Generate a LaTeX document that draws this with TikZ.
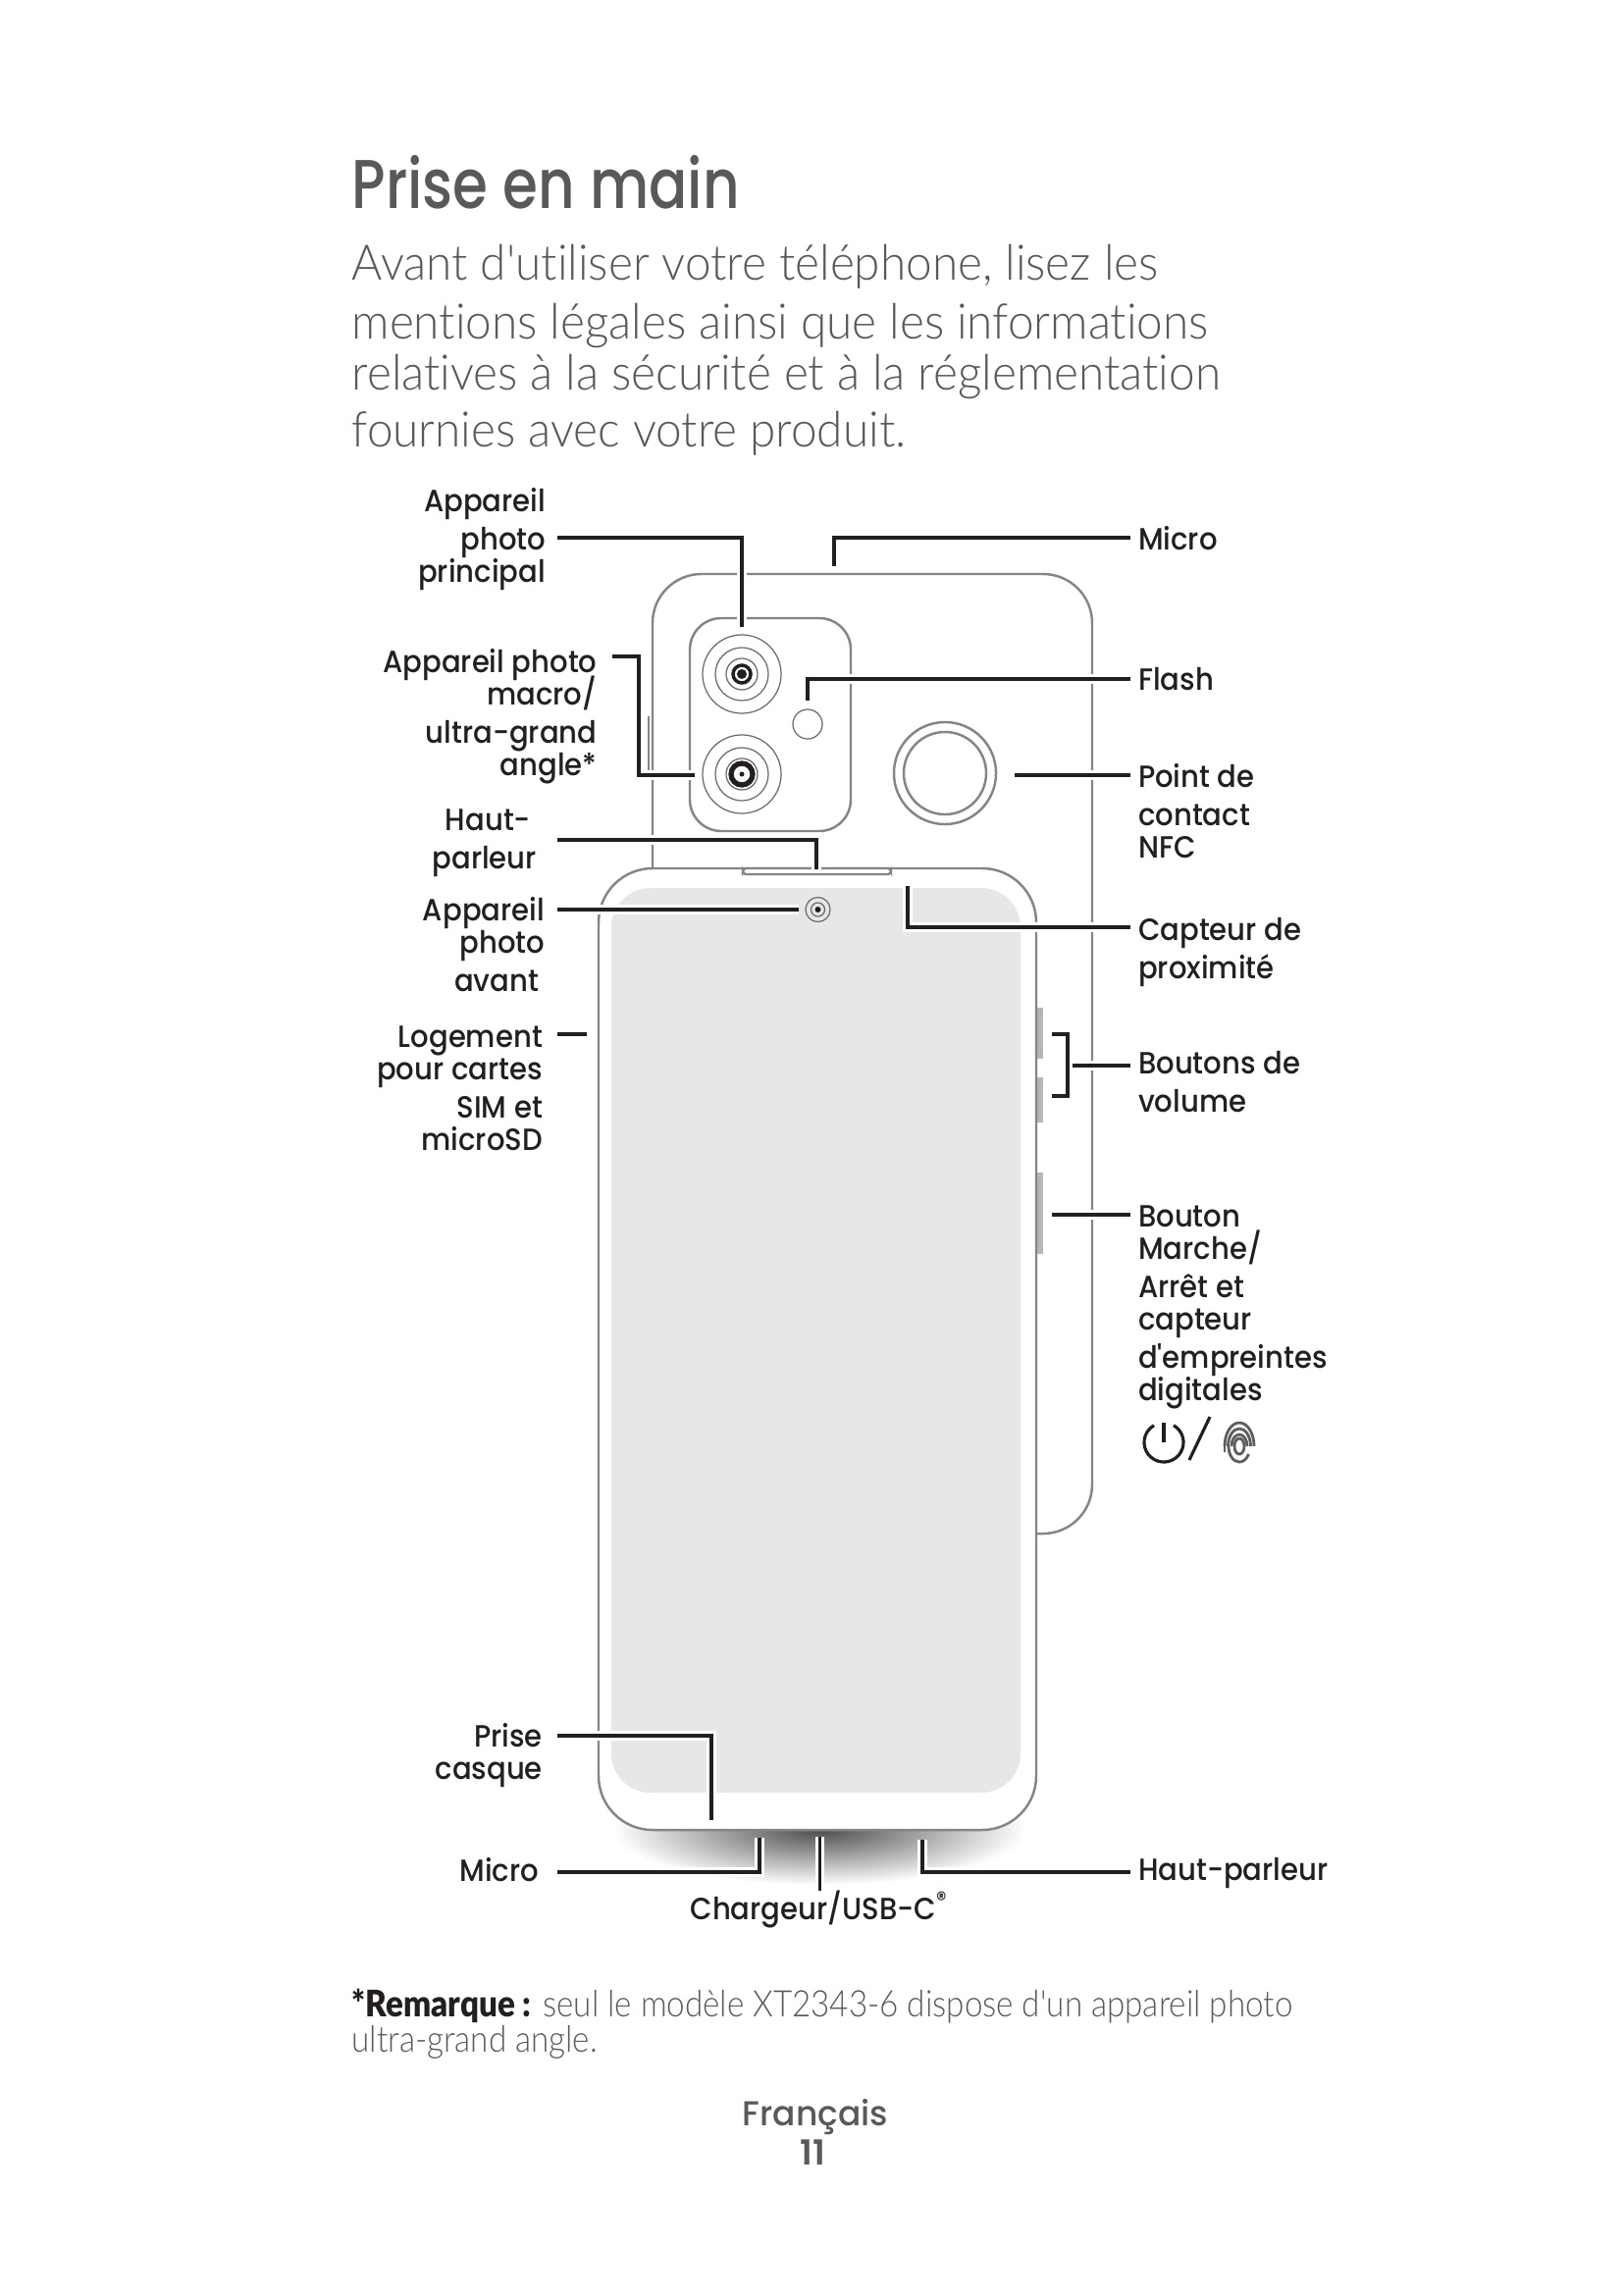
\documentclass[tikz,border=0pt]{standalone}
\usepackage{fontspec}
\usepackage{tikz}
\usetikzlibrary{positioning, calc}
\newfontfamily\labelfont[FakeStretch=.93]{Poppins Medium}
\newfontfamily\footfont[FakeStretch=.98]{Poppins Medium}
\newfontfamily\pagefont{Poppins SemiBold}
\newfontfamily\titlefont[FakeStretch=.825]{Poppins Medium}
\newfontfamily\introfont[FakeStretch=.955, Ligatures=NoCommon]{Lato Light}
\newfontfamily\notefont[FakeStretch=.89, Ligatures=NoCommon]{Lato Light}
\newfontfamily\noteboldfont[FakeStretch=.89]{Lato Black}
\definecolor{inkdark}{HTML}{231F20}
\definecolor{inkgray}{HTML}{58595B}
\definecolor{bodyline}{HTML}{858585}
\definecolor{screenfill}{HTML}{E7E7E7}
\normallineskiplimit=-10pt
\lineskiplimit=-10pt
\tikzset{
  lbl/.style={inner sep=0pt, outer sep=0pt, text=inkdark, font=\labelfont\fontsize{8.9}{9.39}\selectfont},
  lblleft/.style={lbl, anchor=north east, align=right},
  lblright/.style={lbl, anchor=north west, align=left, outer xsep=2.3pt},
  leader/.style={draw=inkdark, line width=1.1pt, preaction={draw=white, line width=2.6pt}},
  phoneline/.style={draw=bodyline, line width=0.7pt},
  ringline/.style={draw=bodyline!80!black, line width=0.35pt}
}
\begin{document}
\begin{tikzpicture}[x=0.01cm, y=-0.01cm]
    \useasboundingbox (0,0) rectangle (1654,2339);

    \node[anchor=base west, inner sep=0pt, text=inkgray, font=\titlefont\fontsize{20}{24}\selectfont] (title) at (358,212) {Prise en main};
    \node[anchor=north west, inner sep=0pt, align=left, text=inkgray, font=\introfont\fontsize{14.2}{14.8}\selectfont] (intro) at (358,248) {Avant d'utiliser votre téléphone, lisez les\\[2.3pt]
      mentions légales ainsi que les informations\\
      relatives à la sécurité et à la réglementation\\[1.7pt]
      fournies avec votre produit.};

    % phone back
    \draw[phoneline, fill=white, rounded corners=0.5cm] (665,585) rectangle (1113,1563);
    \draw[phoneline] (661,730) -- (661,790);
    \draw[phoneline, rounded corners=0.32cm] (703,630) rectangle (867,847);
    \coordinate (lensMain) at (756,687);
    \coordinate (lensMacro) at (756,789);
    \coordinate (flashLamp) at (823,738);
    \coordinate (nfcRing) at (963,788);
    \foreach \c in {lensMain, lensMacro} {
      \foreach \r in {.40,.27,.16} {
        \draw[ringline] (\c) circle[radius=\r cm];
      }
    }
    \draw[inkdark, line width=1pt] (lensMain) circle[radius=.09cm];
    \fill[inkdark] (lensMain) circle[radius=.05cm];
    \draw[inkdark, line width=1.5pt] (lensMacro) circle[radius=.11cm];
    \fill[inkdark] (lensMacro) circle[radius=.025cm];
    \draw[ringline] (flashLamp) circle[radius=.15cm];
    \draw[phoneline] (nfcRing) circle[radius=.52cm];
    \draw[phoneline] (nfcRing) circle[radius=.42cm];

    % phone front
    \shade[inner color=black!70, outer color=white] (835,1865) ellipse[x radius=2.1cm, y radius=.56cm];
    \foreach \y/\h in {1027/1079,1098/1144,1195/1278} {
      \fill[bodyline!60] (1053,\y) rectangle (1063,\h);
    }
    \draw[phoneline, fill=white, rounded corners=0.55cm] (610,885) rectangle (1056,1865);
    \fill[screenfill, rounded corners=0.4cm] (623,905) rectangle (1040,1827);
    \draw[phoneline, fill=white, rounded corners=.03cm] (757,885) rectangle (908,891);
    \coordinate (frontCam) at (833.5,927);
    \draw[ringline] (frontCam) circle[radius=.125cm];
    \draw[ringline] (frontCam) circle[radius=.07cm];
    \fill[inkdark] (frontCam) circle[radius=.03cm];

    % labels on the left
    \node[lblleft, outer xsep=3.4pt] (lblPrincipal) at (568,497) {Appareil\\[1.7pt]photo\hspace*{2.1pt}\\principal};
    \node[lblleft, outer xsep=4.4pt] (lblMacro) at (624,661) {Appareil photo\\macro/\\[1.7pt]ultra-grand\\angle*};
    \node[lblleft, outer xsep=6pt] (lblSpeakerTop) at (568,825) {Haut-\hspace*{1.7pt}\\[1.7pt]parleur};
    \node[lblleft, outer xsep=3.7pt] (lblFront) at (568,914) {Appareil\\photo\hspace*{1.7pt}\\[1.7pt]avant\hspace*{1.7pt}};
    \node[lblleft, outer xsep=4.3pt] (lblSim) at (568,1046) {Logement\\pour cartes\\[1.7pt]SIM et\\microSD};
    \node[lblleft, outer xsep=4.3pt] (lblJack) at (568,1756) {Prise\\casque};
    \node[lblleft, outer xsep=5.4pt] (lblMicBottom) at (568,1893) {Micro};

    % labels on the right
    \node[lblright] (lblMicTop) at (1152,536) {Micro};
    \node[lblright] (lblFlash) at (1152,680) {Flash};
    \node[lblright] (lblNfc) at (1152,778) {Point de\\[1.7pt]contact\\NFC};
    \node[lblright] (lblProx) at (1152,935) {Capteur de\\[1.7pt]proximité};
    \node[lblright] (lblVolume) at (1152,1071) {Boutons de\\[1.7pt]volume};
    \node[lblright] (lblPower) at (1152,1229) {Bouton\\Marche/\\[1.7pt]Arrêt et\\capteur\\[1.7pt]d'empreintes\\digitales};
    \node[lblright] (lblSpeakerBottom) at (1152,1893) {Haut-parleur};
    \node[lbl, anchor=north] (lblUsb) at (835,1927) {Chargeur/USB-C\textsuperscript{\textregistered}};

    % leaders
    \coordinate (mainIn) at (756,639);
    \coordinate (mainTurn) at (756,548);
    \draw[leader] (lblPrincipal.east |- mainTurn) -- (mainTurn) -- (mainIn);
    \coordinate (macroTurnA) at (651,669);
    \coordinate (macroTurnB) at (651,790);
    \coordinate (macroIn) at (708,790);
    \draw[leader] (lblMacro.east |- macroTurnA) -- (macroTurnA) -- (macroTurnB) -- (macroIn);
    \coordinate (slotIn) at (832,886);
    \coordinate (slotTurn) at (832,856);
    \draw[leader] (lblSpeakerTop.east |- slotTurn) -- (slotTurn) -- (slotIn);
    \coordinate (frontIn) at (814,927);
    \draw[leader] (lblFront.east |- frontIn) -- (frontIn);
    \coordinate (simIn) at (598,1054);
    \draw[leader] (lblSim.east |- simIn) -- (simIn);
    \coordinate (jackIn) at (725,1855);
    \coordinate (jackTurn) at (725,1769);
    \draw[leader] (lblJack.east |- jackTurn) -- (jackTurn) -- (jackIn);
    \coordinate (micBottomIn) at (774,1873);
    \coordinate (micBottomTurn) at (774,1908);
    \draw[leader] (lblMicBottom.east |- micBottomTurn) -- (micBottomTurn) -- (micBottomIn);
    \coordinate (usbIn) at (835.5,1872);
    \draw[leader] (usbIn) -- (lblUsb.north -| usbIn);
    \coordinate (spkBottomIn) at (940,1875);
    \coordinate (spkBottomTurn) at (940,1908);
    \draw[leader] (spkBottomIn) -- (spkBottomTurn) -- (lblSpeakerBottom.west |- spkBottomTurn);
    \coordinate (micTopIn) at (850,577);
    \coordinate (micTopTurn) at (850,548);
    \draw[leader] (micTopIn) -- (micTopTurn) -- (lblMicTop.west |- micTopTurn);
    \coordinate (flashIn) at (823,714);
    \coordinate (flashTurn) at (823,692);
    \draw[leader] (flashIn) -- (flashTurn) -- (lblFlash.west |- flashTurn);
    \coordinate (nfcIn) at (1033.5,790);
    \draw[leader] (nfcIn) -- (lblNfc.west |- nfcIn);
    \coordinate (proxIn) at (925,903);
    \coordinate (proxTurn) at (925,945);
    \draw[leader] (proxIn) -- (proxTurn) -- (lblProx.west |- proxTurn);
    \coordinate (volTop) at (1072,1054);
    \coordinate (volBottom) at (1072,1117);
    \coordinate (volJoin) at (1088,1086);
    \draw[leader] (volJoin) -- (lblVolume.west |- volJoin);
    \draw[leader] (volTop) -- (volTop -| volJoin) -- (volBottom -| volJoin) -- (volBottom);
    \coordinate (powerIn) at (1072,1238);
    \draw[leader] (powerIn) -- (lblPower.west |- powerIn);

    % icons
    \coordinate (powerIcon) at (1186,1470);
    \draw[inkdark, line width=0.9pt] (powerIcon) ++(60:.2cm) arc[start angle=60, end angle=-240, radius=.2cm];
    \draw[inkdark, line width=0.9pt] (powerIcon) -- ++(0,-20);
    \draw[inkdark, line width=0.9pt] (1212,1488) -- (1233,1444);
    \coordinate (fingerIcon) at (1263,1474);
    \foreach \a/\b in {.15/.24,.115/.18,.08/.12} {
      \draw[bodyline!70!black, line width=0.8pt] (fingerIcon) ++(\a cm,0) arc[start angle=0, end angle=180, x radius=\a cm, y radius=\b cm];
    }
    \draw[bodyline!70!black, line width=0.8pt] (fingerIcon) ++(.15cm,0) -- ++(0,-6);
    \draw[bodyline!70!black, line width=0.8pt] (fingerIcon) ++(-.15cm,0) -- ++(0,6);
    \draw[bodyline!70!black, line width=0.8pt] (fingerIcon) ellipse[x radius=.05cm, y radius=.08cm];
    \draw[bodyline!70!black, line width=0.8pt] (fingerIcon) ++(-.11cm,0) arc[start angle=180, end angle=330, x radius=.11cm, y radius=.16cm];

    % note and footer
    \node[anchor=base west, inner sep=0pt, align=left, text=inkgray, font=\notefont\fontsize{10.6}{10.2}\selectfont] (note) at (358,2091) {{\noteboldfont\color{inkdark}*Remarque :} seul le modèle XT2343-6 dispose d'un appareil photo\\ultra-grand angle.};
    \node[anchor=base, inner sep=0pt, text=inkgray, font=\footfont\fontsize{10}{12}\selectfont] (lang) at (831,2166) {Français};
    \node[anchor=base, inner sep=0pt, text=inkgray, font=\pagefont\fontsize{10}{12}\selectfont] (pageno) at (828,2206) {11};
  \end{tikzpicture}
\end{document}
